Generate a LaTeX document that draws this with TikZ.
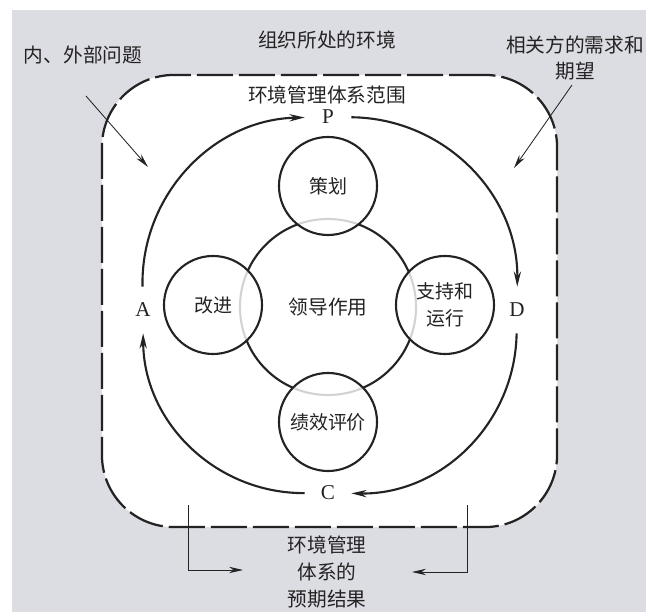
\documentclass[tikz,border=0pt]{standalone}
\usepackage{fontspec}
\setmainfont{Liberation Serif}
\newfontfamily\cjk{Noto Sans CJK SC}
\usepackage{xcolor}
\usepackage{tikz}
\usetikzlibrary{arrows.meta, positioning, calc}

\definecolor{bggray}{RGB}{220,220,227}
\definecolor{ink}{RGB}{35,35,35}

\begin{document}
\begin{tikzpicture}[x=0.025cm, y=0.025cm,
		txt/.style={font=\cjk\fontsize{14}{19}\selectfont, text=ink},
		ring/.style={draw=ink, line width=1.5pt, circle, minimum size=2.45cm, inner sep=0pt,
			fill=white, fill opacity=0.8, text opacity=1, align=center,
			font=\cjk\fontsize{13.5}{19}\selectfont, text=ink},
		stage/.style={circle, minimum size=1.15cm, inner sep=0pt, font=\fontsize{15}{17}\selectfont, text=ink},
		pdca/.style={draw=ink, line width=1.5pt, -{Stealth[length=0.38cm, width=0.18cm, fill=ink]}, bend left=45},
		hint/.style={draw=ink, line width=0.6pt, -{Stealth[length=0.35cm, width=0.16cm, fill=ink]}}]

		\useasboundingbox (0,0) rectangle (646,612);
		\fill[bggray] (12,0) rectangle (646,602);

		% dashed scope of the system
		\node[draw=ink, fill=white, line width=1.6pt, dash pattern=on 0.9cm off 0.15cm,
			rounded corners=1.8cm, minimum width=11.375cm, minimum height=11.3cm] (ems) at (329.5,311) {};

		\node[txt] (context) at (327,572) {组织所处的环境};
		\node[txt] (issues) at (83,557) {内、外部问题};
		\node[txt, align=center] (needs) at (575,554) {相关方的需求和\\期望};
		\node[txt] (range) at (327,517) {环境管理体系范围};

		\coordinate (issuesfrom) at (86,516);
		\coordinate (issuesto) at (148,445);
		\coordinate (needsfrom) at (572,527);
		\coordinate (needsto) at (514,444);
		\draw[hint] (issuesfrom) to (issuesto);
		\draw[hint] (needsfrom) to (needsto);

		% circles
		\node[draw=ink, line width=1.5pt, circle, minimum size=4.4cm, txt] (lead) at (328,305) {领导作用};
		\node[ring] (plan) at (328,426) {策划};
		\node[ring] (improve) at (213,307) {改进};
		\node[ring] (support) at (445,307) {支持和\\运行};
		\node[ring] (check) at (328,190) {绩效评价};

		% PDCA
		\node[stage] (P) at (328,495) {P};
		\node[stage] (D) at (517,302) {D};
		\node[stage] (C) at (328,119) {C};
		\node[stage] (A) at (143,302) {A};

		\draw[pdca] (A) to (P);
		\draw[pdca] (P) to (D);
		\draw[pdca] (D) to (C);
		\draw[pdca] (C) to (A);

		% outcomes
		\node[txt, align=center, font=\cjk\fontsize{14}{19.5}\selectfont] (result) at (327,40) {环境管理\\体系的\\预期结果};

		\coordinate (leftfrom) at (188,107);
		\coordinate (leftto) at (243,42);
		\coordinate (rightfrom) at (467,107);
		\coordinate (rightto) at (412,40);
		\draw[hint] (leftfrom) |- (leftto);
		\draw[hint] (rightfrom) |- (rightto);
	\end{tikzpicture}
\end{document}
